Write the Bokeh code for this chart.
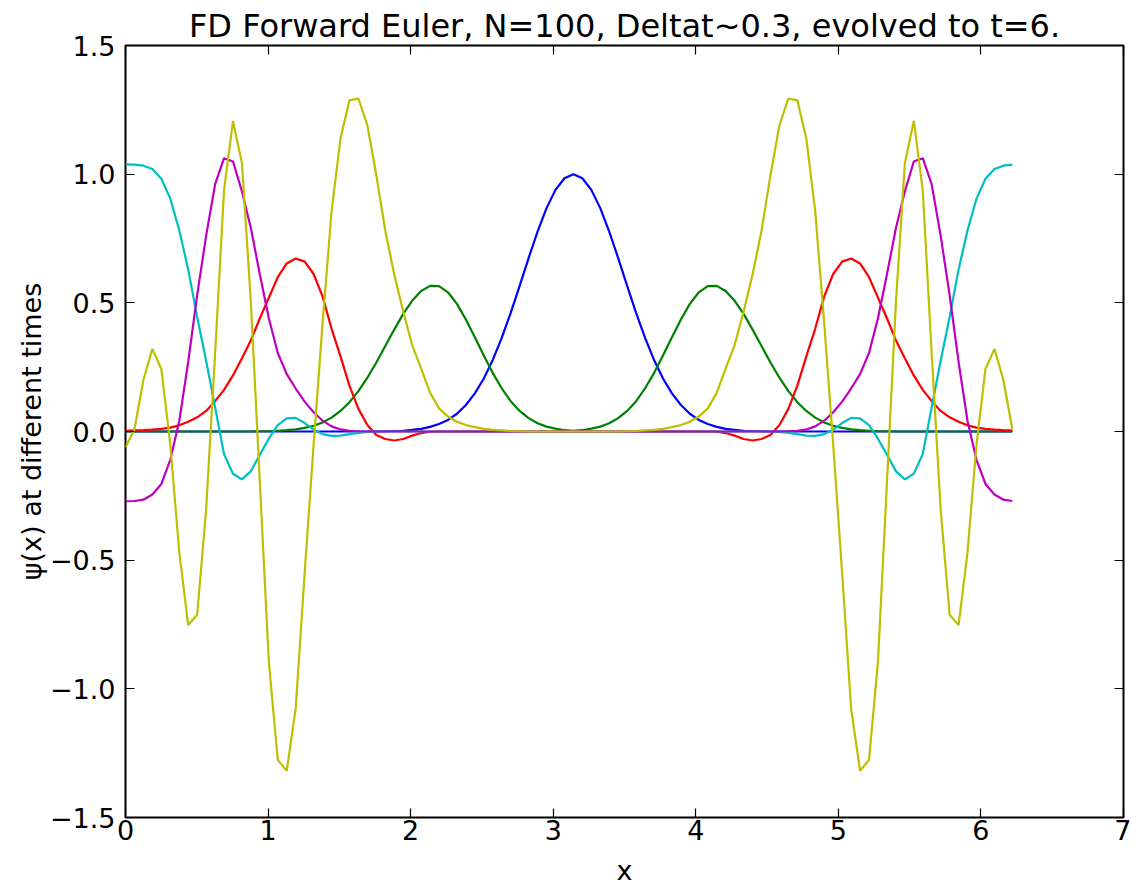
import math
from bokeh.plotting import figure
from bokeh.models import ColumnDataSource, Range1d, FixedTicker, LinearAxis
from bokeh.embed import file_html
from bokeh.resources import INLINE

N = 100
x_vals = [2 * math.pi * i / N for i in range(N)]

blue = [
    0, 0, 0, 0, 0, 0, 0, 0, 0, 0,
    0, 0, 0, 0, 0, 0, 0, 0, 0, 0,
    0, 0, 0, 0, 0, 0, 0, 0, 0, 0.001,
    0.002, 0.003, 0.006, 0.010, 0.018, 0.029, 0.045, 0.069, 0.103, 0.148,
    0.206, 0.278, 0.364, 0.461, 0.566, 0.674, 0.777, 0.868, 0.939, 0.984,
    1.000, 0.984, 0.939, 0.868, 0.777, 0.674, 0.566, 0.461, 0.364, 0.278,
    0.206, 0.148, 0.103, 0.069, 0.045, 0.029, 0.018, 0.010, 0.006, 0.003,
    0.002, 0.001, 0, 0, 0, 0, 0, 0, 0, 0,
    0, 0, 0, 0, 0, 0, 0, 0, 0, 0,
    0, 0, 0, 0, 0, 0, 0, 0, 0, 0,
]

green = [
    0, 0, 0, 0, 0, 0, 0, 0, 0, 0,
    0, 0, 0, 0, 0, 0.001, 0.001, 0.003, 0.005, 0.008,
    0.014, 0.022, 0.035, 0.054, 0.080, 0.114, 0.157, 0.209, 0.268, 0.332,
    0.396, 0.457, 0.508, 0.546, 0.566, 0.565, 0.541, 0.496, 0.435, 0.366,
    0.295, 0.227, 0.168, 0.118, 0.080, 0.052, 0.032, 0.019, 0.011, 0.005,
    0.003, 0.005, 0.011, 0.019, 0.032, 0.052, 0.080, 0.118, 0.168, 0.227,
    0.295, 0.366, 0.435, 0.496, 0.541, 0.565, 0.566, 0.546, 0.508, 0.457,
    0.396, 0.332, 0.268, 0.209, 0.157, 0.114, 0.080, 0.054, 0.035, 0.022,
    0.014, 0.008, 0.005, 0.003, 0.001, 0.001, 0, 0, 0, 0,
    0, 0, 0, 0, 0, 0, 0, 0, 0, 0,
]

red = [
    0.003, 0.004, 0.005, 0.007, 0.010, 0.015, 0.024, 0.038, 0.055, 0.080,
    0.118, 0.162, 0.218, 0.285, 0.355, 0.440, 0.520, 0.600, 0.653, 0.672,
    0.660, 0.612, 0.525, 0.400, 0.292, 0.178, 0.088, 0.025, -0.014, -0.029,
    -0.035, -0.029, -0.016, -0.006, -0.001, 0, 0, 0, 0, 0,
    0, 0, 0, 0, 0, 0, 0, 0, 0, 0,
    0, 0, 0, 0, 0, 0, 0, 0, 0, 0,
    0, 0, 0, 0, 0, 0, -0.001, -0.006, -0.016, -0.029,
    -0.035, -0.029, -0.014, 0.025, 0.088, 0.178, 0.292, 0.400, 0.525, 0.612,
    0.660, 0.672, 0.653, 0.600, 0.520, 0.440, 0.355, 0.285, 0.218, 0.162,
    0.118, 0.080, 0.055, 0.038, 0.024, 0.015, 0.010, 0.007, 0.005, 0.004,
]

cyan = [
    1.038, 1.037, 1.033, 1.020, 0.982, 0.905, 0.782, 0.630, 0.445, 0.275,
    0.095, -0.088, -0.164, -0.186, -0.154, -0.090, -0.028, 0.025, 0.051, 0.053,
    0.033, 0.007, -0.010, -0.017, -0.016, -0.010, -0.005, -0.002, 0, 0,
    0, 0, 0, 0, 0, 0, 0, 0, 0, 0,
    0, 0, 0, 0, 0, 0, 0, 0, 0, 0,
    0, 0, 0, 0, 0, 0, 0, 0, 0, 0,
    0, 0, 0, 0, 0, 0, 0, 0, 0, 0,
    0, 0, 0, -0.002, -0.005, -0.010, -0.016, -0.017, -0.010, 0.007,
    0.033, 0.053, 0.051, 0.025, -0.028, -0.090, -0.154, -0.186, -0.164, -0.088,
    0.095, 0.275, 0.445, 0.630, 0.782, 0.905, 0.982, 1.020, 1.033, 1.037,
]

magenta = [
    -0.271, -0.270, -0.265, -0.245, -0.204, -0.110, 0.040, 0.270, 0.530, 0.760,
    0.960, 1.062, 1.049, 0.933, 0.790, 0.610, 0.440, 0.305, 0.223, 0.167,
    0.116, 0.075, 0.042, 0.020, 0.008, 0.003, 0.001, 0, 0, 0,
    0, 0, 0, 0, 0, 0, 0, 0, 0, 0,
    0, 0, 0, 0, 0, 0, 0, 0, 0, 0,
    0, 0, 0, 0, 0, 0, 0, 0, 0, 0,
    0, 0, 0, 0, 0, 0, 0, 0, 0, 0,
    0, 0, 0, 0, 0.001, 0.003, 0.008, 0.020, 0.042, 0.075,
    0.116, 0.167, 0.223, 0.305, 0.440, 0.610, 0.790, 0.933, 1.049, 1.062,
    0.960, 0.760, 0.530, 0.270, 0.040, -0.110, -0.204, -0.245, -0.265, -0.270,
]

olive = [
    -0.061, 0.009, 0.200, 0.321, 0.243, -0.050, -0.469, -0.752, -0.712, -0.304,
    0.300, 0.938, 1.207, 1.042, 0.500, -0.200, -0.894, -1.276, -1.319, -1.076,
    -0.550, -0.050, 0.420, 0.854, 1.139, 1.287, 1.294, 1.190, 0.996, 0.780,
    0.610, 0.466, 0.336, 0.245, 0.150, 0.090, 0.058, 0.038, 0.025, 0.017,
    0.010, 0.006, 0.004, 0.002, 0.001, 0, 0, 0, 0, 0,
    0, 0, 0, 0, 0, 0, 0.001, 0.002, 0.004, 0.006,
    0.010, 0.017, 0.025, 0.038, 0.058, 0.090, 0.150, 0.245, 0.336, 0.466,
    0.610, 0.780, 0.996, 1.190, 1.294, 1.287, 1.139, 0.854, 0.420, -0.050,
    -0.550, -1.076, -1.319, -1.276, -0.894, -0.200, 0.500, 1.042, 1.207, 0.938,
    0.300, -0.304, -0.712, -0.752, -0.469, -0.050, 0.243, 0.321, 0.200, 0.009,
]

series_names = ["blue", "green", "red", "cyan", "magenta", "olive"]
series_colors = ["#0000ff", "#008000", "#ff0000", "#00bfbf", "#bf00bf", "#bfbf00"]

x_ticks = [0, 1, 2, 3, 4, 5, 6, 7]
x_tick_labels = ["0", "1", "2", "3", "4", "5", "6", "7"]
y_ticks = [-1.5, -1.0, -0.5, 0.0, 0.5, 1.0, 1.5]
y_tick_labels = ["\u22121.5", "\u22121.0", "\u22120.5", "0.0", "0.5", "1.0", "1.5"]

title_text = "FD Forward Euler, N=100, Deltat~0.3, evolved to t=6."
x_label = "x"
y_label = "\u03c8(x) at different times"

FONT = "DejaVu Sans"

source = ColumnDataSource(data=dict(
    x=x_vals, blue=blue, green=green, red=red, cyan=cyan, magenta=magenta, olive=olive
))

p = figure(
    frame_width=998, frame_height=772,
    x_range=Range1d(0, 7), y_range=Range1d(-1.5, 1.5),
    output_backend="svg", toolbar_location=None,
    title=title_text,
    min_border_left=125, min_border_right=8, min_border_top=45, min_border_bottom=10,
)
p.background_fill_color = "white"
p.border_fill_color = "white"
p.outline_line_color = "black"
p.outline_line_width = 2
p.xgrid.visible = False
p.ygrid.visible = False

p.title.text_font = FONT
p.title.text_font_size = "32px"
p.title.text_font_style = "normal"
p.title.align = "center"
p.title.standoff = 2
p.title.text_color = "black"

for name, color in zip(series_names, series_colors):
    p.line("x", name, source=source, line_color=color, line_width=2.2)


def style_axis(ax, ticks, labels, show_labels=True):
    ax.ticker = FixedTicker(ticks=ticks)
    ax.major_tick_in = 9
    ax.major_tick_out = 0
    ax.minor_tick_in = 0
    ax.minor_tick_out = 0
    ax.major_tick_line_color = "black"
    ax.major_tick_line_width = 1.2
    ax.axis_line_color = None
    ax.major_label_text_font = FONT
    if show_labels:
        ax.major_label_overrides = {t: l for t, l in zip(ticks, labels)}
        ax.major_label_text_color = "black"
        ax.major_label_text_font_size = "27px"
    else:
        ax.major_label_text_color = None
        ax.major_label_text_alpha = 0
        ax.major_label_text_font_size = "1px"
        ax.major_label_standoff = 0


xa = p.xaxis[0]
style_axis(xa, x_ticks, x_tick_labels)
xa.major_label_standoff = 2
xa.axis_label = x_label
xa.axis_label_text_font = FONT
xa.axis_label_text_font_size = "27px"
xa.axis_label_text_font_style = "normal"
xa.axis_label_text_color = "black"
xa.axis_label_standoff = 12

ya = p.yaxis[0]
style_axis(ya, y_ticks, y_tick_labels)
ya.major_label_standoff = 10
ya.axis_label = y_label
ya.axis_label_text_font = FONT
ya.axis_label_text_font_size = "27px"
ya.axis_label_text_font_style = "normal"
ya.axis_label_text_color = "black"
ya.axis_label_standoff = 0

top_axis = LinearAxis()
style_axis(top_axis, x_ticks, x_tick_labels, show_labels=False)
p.add_layout(top_axis, "above")

right_axis = LinearAxis()
style_axis(right_axis, y_ticks, y_tick_labels, show_labels=False)
p.add_layout(right_axis, "right")

open("out.html", "w").write(file_html(p, INLINE))
